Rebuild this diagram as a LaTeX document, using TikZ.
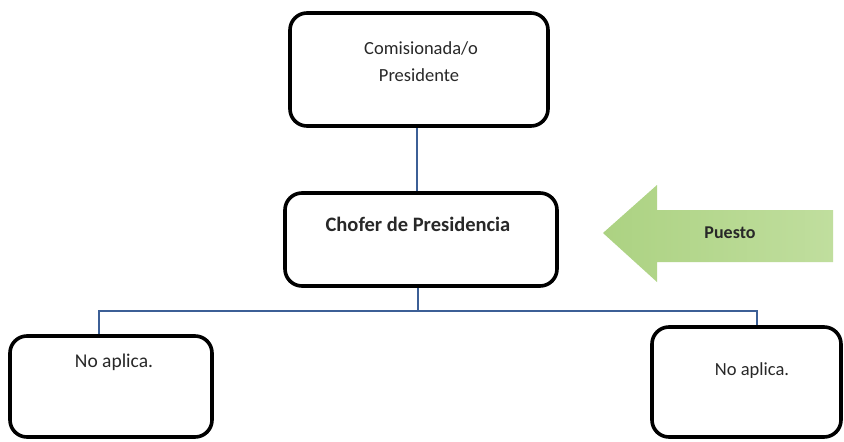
\documentclass[tikz,border=0pt]{standalone}
\usepackage{fontspec}
\setmainfont{Carlito}
\definecolor{conn}{RGB}{60,95,150}
\definecolor{arrowL}{RGB}{172,210,130}
\definecolor{arrowR}{RGB}{192,222,158}
\definecolor{txt}{RGB}{40,40,40}
\begin{document}
\begin{tikzpicture}[x=1pt,y=-1pt,
  box/.style={draw=black,line width=3.6pt,rounded corners=17pt,fill=white,inner sep=0pt},
  conline/.style={draw=conn,line width=1.5pt},
  btext/.style={font=\fontsize{18.5}{22}\selectfont,text=txt,inner sep=0pt,align=center}]
\useasboundingbox (0,0) rectangle (844,442);
\fill[white] (0,0) rectangle (844,442);
% boxes
\node[box,minimum width=258pt,minimum height=113pt] (top) at (419,69.5) {};
\node[box,minimum width=272pt,minimum height=93pt] (mid) at (421,239.5) {};
\node[box,minimum width=202pt,minimum height=101pt] (lb) at (111,386.5) {};
\node[box,minimum width=189pt,minimum height=110pt] (rb) at (746.5,382) {};
% texts
\node[btext] (t1) at (421,48) {Comisionada/o};
\node[btext] (t2) at (419,75) {Presidente};
\node[btext,font=\fontsize{20.5}{24}\selectfont\bfseries] (t3) at (418,224) {Chofer de Presidencia};
\node[btext,font=\fontsize{19.5}{23}\selectfont] (t4) at (114,362) {No aplica.};
\node[btext] (t5) at (752,371) {No aplica.};
% connectors
\coordinate (bus) at (418,311);
\draw[conline] ([xshift=-2pt]top.south) -- ([xshift=-2pt]top.south |- mid.north);
\draw[conline] ([xshift=-3pt]mid.south) -- ([xshift=-3pt]mid.south |- bus);
\draw[conline] ([xshift=-12pt]lb.north) |- (bus) -| ([xshift=10.5pt]rb.north);
% arrow
\shade[left color=arrowL,right color=arrowR]
  (603,233) -- (657,185) -- (657,210) -- (833,210) -- (833,262) -- (657,262) -- (657,282) -- cycle;
\node[btext,font=\fontsize{18}{22}\selectfont\bfseries] (puesto) at (730,233) {Puesto};
\end{tikzpicture}
\end{document}
